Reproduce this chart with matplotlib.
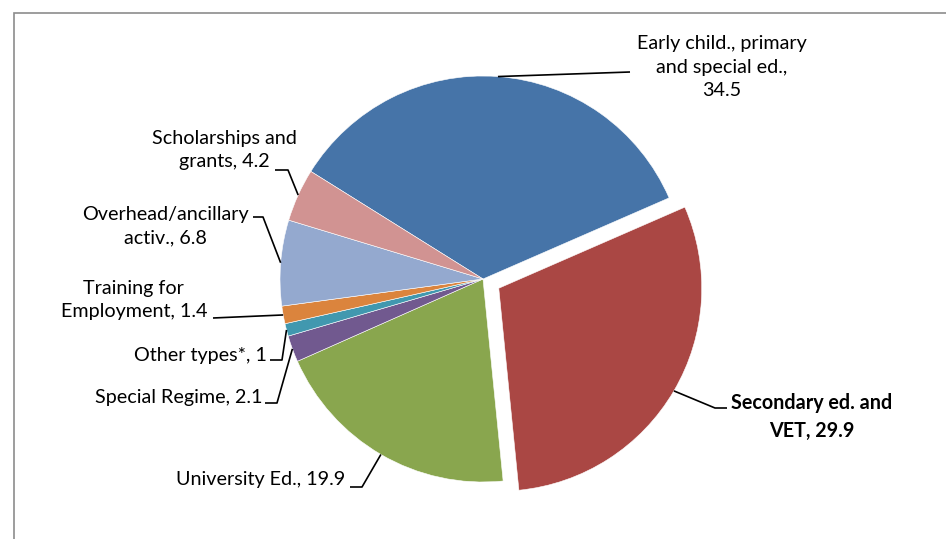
import matplotlib.pyplot as plt
import numpy as np

plt.rcParams['font.family'] = ['Lato', 'DejaVu Sans']

# spending shares by education type (%)
categories = ['Early child., primary\nand special ed.', 'Secondary ed. and\nVET',
              'University Ed.', 'Special Regime', 'Other types*',
              'Training for\nEmployment', 'Overhead/ancillary\nactiv.',
              'Scholarships and\ngrants']
values = [34.5, 29.9, 19.9, 2.1, 1, 1.4, 6.8, 4.2]
colors = ['#4674A8', '#AA4744', '#89A64E', '#71598F', '#4198AF', '#DB843D', '#94A9CF', '#D19392']
pulled = [False, True, False, False, False, False, False, False]

W, H = 946, 539
fig = plt.figure(figsize=(W / 100, H / 100), dpi=100)
ax = fig.add_axes([0, 0, 1, 1])

# chart area border (cut off on the right and bottom)
fig.patches.append(plt.Rectangle((14 / W, -0.1), 1.2, (H - 13) / H + 0.1, transform=fig.transFigure,
                                 fill=False, edgecolor='#8c8c8c', linewidth=1.2))

cx, cy, R = 483, H - 279, 203
explode = [0.09 * R if p else 0 for p in pulled]
wedges, _ = ax.pie(values, colors=colors, explode=explode, startangle=148, counterclock=False,
                   center=(cx, cy), radius=R, normalize=True,
                   wedgeprops=dict(edgecolor='white', linewidth=0.4))
ax.set_xlim(0, W)
ax.set_ylim(0, H)
ax.set_aspect('equal')
ax.axis('off')

# leader line path and text placement, in image pixels (y down)
# (elbow points, text x, text y, ha, separator before value)
layout = [
    ([(630, 72)], 722, 67, 'center', ',\n'),
    ([(715, 408), (727, 408)], 812, 417, 'center', ', '),
    ([(362, 487), (350, 487)], 345, 480, 'right', ', '),
    ([(277, 403), (265, 403)], 262, 397, 'right', ', '),
    ([(282, 360), (270, 360)], 267, 356, 'right', ', '),
    ([(213, 318)], 207, 300, 'right', ', '),
    ([(263, 217), (253, 217)], 249, 226, 'right', ', '),
    ([(288, 170), (275, 170)], 297, 150, 'right', ', '),
]

for w, lab, v, p, (pts, tx, ty, ha, sep) in zip(wedges, categories, values, pulled, layout):
    mid = np.deg2rad((w.theta1 + w.theta2) / 2)
    xs = [w.center[0] + w.r * np.cos(mid)] + [q[0] for q in pts]
    ys = [w.center[1] + w.r * np.sin(mid)] + [H - q[1] for q in pts]
    ax.plot(xs, ys, color='black', linewidth=1.2, solid_capstyle='butt')
    ax.text(tx, H - ty, f'{lab}{sep}{v:g}', ha=ha, va='center', multialignment='center',
            fontsize=14.2, fontweight='bold' if p else 'normal', linespacing=1.45, color='black')

fig.savefig('out.png', dpi=100)
